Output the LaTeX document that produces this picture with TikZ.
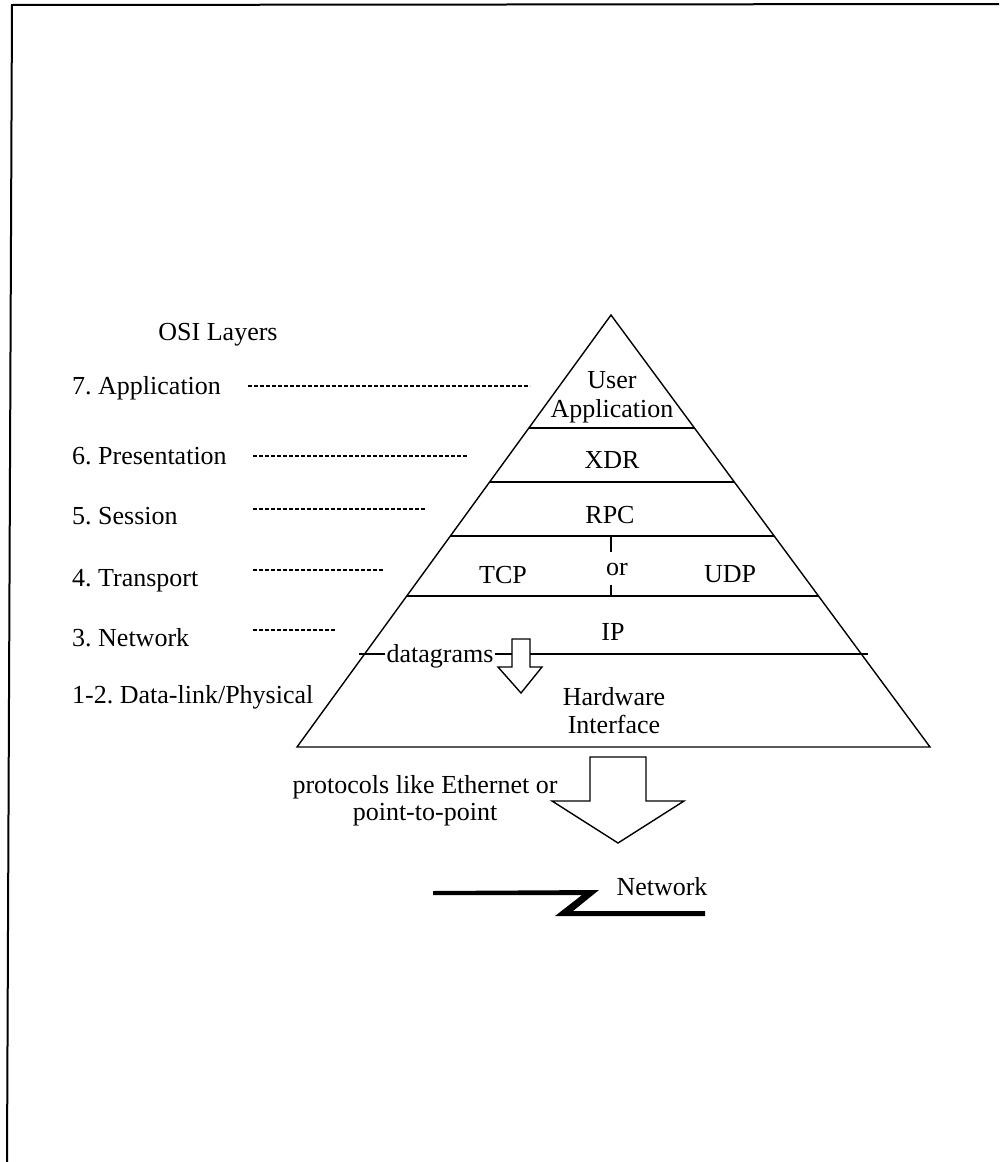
\documentclass[tikz,border=0pt]{standalone}
\usepackage{fontspec}
\setmainfont{Liberation Serif}
\usetikzlibrary{calc}
\frenchspacing
\begin{document}
\begin{tikzpicture}[x=1pt,y=-1pt,
  lbl/.style={anchor=base,inner sep=0pt,font=\fontsize{26}{29}\selectfont},
  lft/.style={lbl,anchor=base west},
  edge/.style={line width=1.4pt},
  dots/.style={line width=1.3pt,dash pattern=on 3.5pt off 2.5pt},
  hollowarrow/.style={draw,fill=white,line width=1.4pt,line join=miter}]
\useasboundingbox (0,0) rectangle (999,1162);
% page frame
\draw[line width=2pt] (7,1162) -- (12,5) -- (999,4);
% pyramid
\coordinate (apex) at (611,315);
\coordinate (bl) at (297,747);
\coordinate (br) at (930,747);
\draw[edge,line join=miter] (bl) -- (apex) -- (br) -- cycle;
\foreach \yy in {428,482,536,596}{
  \draw[edge] ($(apex)!{(\yy-315)/432}!(bl)$) -- ($(apex)!{(\yy-315)/432}!(br)$);
}
% IP / hardware line (extends slightly past the sides)
\coordinate (ipl) at (359,654);
\coordinate (ipr) at (868,654);
\draw[edge] (ipl) -- (ipr);
% or ticks
\draw[line width=1.2pt] (611,536) -- (611,552);
\draw[line width=1.2pt] (611,585) -- (611,596);
% texts in pyramid
\node[lbl] (user) at (612,388) {User};
\node[lbl] (app) at (612,417) {Application};
\node[lbl] (xdr) at (612,468) {XDR};
\node[lbl] (rpc) at (610,523) {RPC};
\node[lbl] (tcp) at (503,583) {TCP};
\node[lbl] (or) at (617,575) {or};
\node[lbl] (udp) at (730,582) {UDP};
\node[lbl] (ip) at (613,640) {IP};
\node[lbl] (hw1) at (614,705) {Hardware};
\node[lbl] (hw2) at (614,733) {Interface};
\node[lbl,fill=white,inner xsep=1.5pt,inner ysep=0pt] (dg) at (440,662) {datagrams};
% datagram arrow
\draw[hollowarrow] (512,639) -- (530,639) -- (530,667) -- (542,667) -- (521,693)
  -- (498,667) -- (512,667) -- cycle;
% OSI labels
\node[lbl] (osi) at (218,340) {OSI Layers};
\node[lft] (l7) at (72,394) {7. Application};
\node[lft] (l6) at (72,464) {6. Presentation};
\node[lft] (l5) at (72,524) {5. Session};
\node[lft] (l4) at (72,586) {4. Transport};
\node[lft] (l3) at (72,646) {3. Network};
\node[lft] (l12) at (72,703) {1-2. Data-link/Physical};
% dotted leaders
\draw[dots] (248,386) -- (530,386);
\draw[dots] (253,456) -- (467,456);
\draw[dots] (253,509) -- (425,509);
\draw[dots] (253,570) -- (383,570);
\draw[dots] (253,630) -- (335,630);
% big arrow to network
\draw[hollowarrow] (590,757) -- (646,757) -- (646,801) -- (684,801) -- (618,843)
  -- (552,801) -- (590,801) -- cycle;
\node[lbl] (proto1) at (425,793) {protocols like Ethernet or};
\node[lbl] (proto2) at (425,820) {point-to-point};
% network symbol
\fill (433,891) -- (599,890) -- (573,911) -- (705,911) -- (705,916) -- (555,916)
  -- (582,895) -- (433,895) -- cycle;
\node[lbl] (net) at (662,895) {Network};
\end{tikzpicture}
\end{document}
